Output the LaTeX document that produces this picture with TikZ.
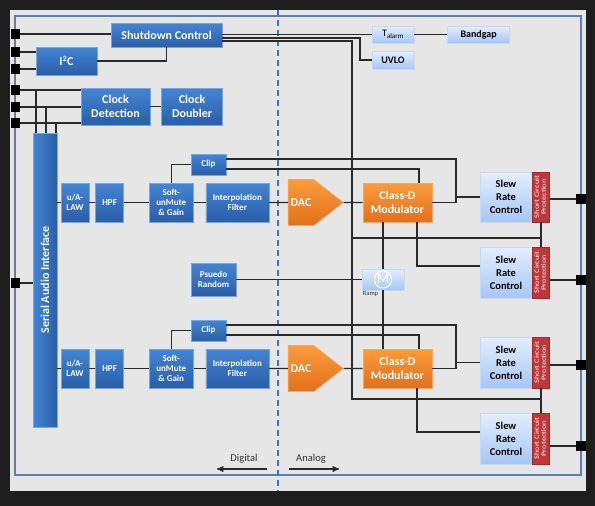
\documentclass[tikz,border=0pt]{standalone}
\usepackage{fontspec}
\setmainfont{Carlito}
\usepackage{graphicx}
\usetikzlibrary{shapes,positioning,arrows,calc}
\definecolor{bgdark}{HTML}{1E1E1E}
\definecolor{panel}{HTML}{E6E6E6}
\definecolor{frameblue}{HTML}{5A7FB2}
\definecolor{dashblue}{HTML}{3F73B8}
\definecolor{wirecol}{HTML}{2A2A2A}
\definecolor{blktop}{HTML}{4385D3}
\definecolor{blkbot}{HTML}{2A5EA8}
\definecolor{blkline}{HTML}{7AA4DA}
\definecolor{ltop}{HTML}{E4EEFC}
\definecolor{lbot}{HTML}{A6C6F6}
\definecolor{lline}{HTML}{C6D8F2}
\definecolor{otop}{HTML}{FB9C3C}
\definecolor{obot}{HTML}{E2701A}
\definecolor{oline}{HTML}{F2A86A}
\definecolor{scpred}{HTML}{C0363A}
\definecolor{scpline}{HTML}{A02A2C}
\definecolor{labelgray}{HTML}{333333}
\newcommand{\scplabel}{\rotatebox{90}{\scalebox{1.3}[1]{\begin{tabular}{@{}c@{}}Short Circuit\\Protection\end{tabular}}}}

\begin{document}
\begin{tikzpicture}[x=1pt,y=-1pt]

    \tikzstyle{wire}=[draw=wirecol, line width=1.3pt]
    \tikzstyle{blk}=[draw=blkline, line width=0.6pt, top color=blktop, bottom color=blkbot, text=white, align=center, inner sep=0pt, font=\fontsize{9}{10.4}\selectfont\bfseries]
    \tikzstyle{bigblk}=[blk, font=\fontsize{12}{14.5}\selectfont\bfseries]
    \tikzstyle{rowblk}=[blk, minimum height=39pt]
    \tikzstyle{lblk}=[draw=lline, line width=0.6pt, top color=ltop, bottom color=lbot, text=black, align=center, inner sep=0pt, font=\fontsize{10}{12}\selectfont\bfseries]
    \tikzstyle{slew}=[lblk, minimum width=52pt, font=\fontsize{10.5}{13}\selectfont\bfseries]
    \tikzstyle{scp}=[draw=scpline, line width=0.5pt, fill=scpred, text=white, inner sep=0pt, minimum width=17pt, font=\fontsize{6.5}{7}\selectfont]
    \tikzstyle{ora}=[draw=oline, line width=0.6pt, top color=otop, bottom color=obot, text=white, align=center, inner sep=0pt, font=\fontsize{12}{14.5}\selectfont\bfseries]
    \tikzstyle{dacshape}=[ora, signal, signal to=east, signal pointer angle=76, minimum width=55pt, minimum height=46pt]
    \tikzstyle{pad}=[fill=black, minimum size=9.5pt, inner sep=0pt]
    \tikzstyle{sidetxt}=[text=labelgray, font=\fontsize{10.5}{12}\selectfont]

    % backdrop
    \fill[bgdark] (0,0) rectangle (595,506);
    \fill[panel] (10,10) rectangle (586,491);
    \draw[frameblue, line width=1.2pt] (15,16) rectangle (581,475);
    \draw[dashblue, line width=1.5pt, dash pattern=on 6pt off 4pt] (278,10) -- (278,491);

    \begin{scope}[>=stealth']

      % control
      \node (shutdown) at (166.5,35)[bigblk, minimum width=111pt, minimum height=24pt]{Shutdown Control};
      \node (iic) at (66.5,61)[bigblk, minimum width=61pt, minimum height=28pt]{I\textsuperscript{2}C};
      \node (clockDet) at (115.5,106.5)[bigblk, minimum width=69pt, minimum height=37pt]{Clock\\Detection};
      \node (clockDbl) [right=11pt of clockDet, bigblk, minimum width=61pt, minimum height=37pt]{Clock\\Doubler};
      \node (serialAudio) at (45,280)[draw=blkline, line width=0.6pt, left color=blktop, right color=blkbot, text=white, inner sep=0pt, minimum width=24pt, minimum height=294pt, font=\fontsize{12}{14.5}\selectfont\bfseries]{\rotatebox{90}{Serial Audio Interface}};
      \node (tAlarm) at (393,34.5)[lblk, minimum width=42pt, minimum height=17pt, font=\fontsize{10}{12}\selectfont]{T\textsubscript{alarm}};
      \node (bandgap) [right=33pt of tAlarm, lblk, minimum width=62pt, minimum height=17pt]{Bandgap};
      \node (uvlo) at (393,60)[lblk, minimum width=42pt, minimum height=18pt]{UVLO};

      % channel one
      \node (lawA) at (75,202.5)[rowblk, minimum width=28pt]{u/A-\\LAW};
      \node (hpfA) [right=6pt of lawA, rowblk, minimum width=28pt]{HPF};
      \node (softA) [right=25pt of hpfA, rowblk, minimum width=44pt]{Soft-\\unMute\\\& Gain};
      \node (interpA) [right=12pt of softA, rowblk, minimum width=63pt]{Interpolation\\Filter};
      \node (clipA) at (208.5,164.5)[blk, minimum width=35pt, minimum height=21pt]{Clip};
      \node (dacA) at (301,202.5)[dacshape]{DAC};
      \node (classDA) at (397.5,202.5)[ora, minimum width=69pt, minimum height=39pt]{Class-D\\Modulator};
      \node (slewA) at (506,197)[slew, minimum height=50pt]{Slew\\Rate\\Control};
      \node (scpA) [right=0pt of slewA, scp, minimum height=50pt]{\scplabel};
      \node (slewB) at (506,272.5)[slew, minimum height=51pt]{Slew\\Rate\\Control};
      \node (scpB) [right=0pt of slewB, scp, minimum height=51pt]{\scplabel};

      % ramp
      \node (pseudoRnd) at (213.5,279.5)[blk, minimum width=45pt, minimum height=33pt]{Psuedo\\Random};
      \node (ramp) at (383,279.5)[lblk, minimum width=42pt, minimum height=21pt]{};
      \node (rampIcon) at (ramp)[circle, draw=white, line width=1pt, minimum size=17pt, inner sep=0pt, text=white, font=\fontsize{14}{14}\selectfont]{M};
      \node (rampTxt) at (ramp.south west)[anchor=north west, inner sep=1pt, text=labelgray, font=\fontsize{6.5}{7}\selectfont]{Ramp};

      % channel two
      \node (lawB) at (75,368.5)[rowblk, minimum width=28pt]{u/A-\\LAW};
      \node (hpfB) [right=6pt of lawB, rowblk, minimum width=28pt]{HPF};
      \node (softB) [right=25pt of hpfB, rowblk, minimum width=44pt]{Soft-\\unMute\\\& Gain};
      \node (interpB) [right=12pt of softB, rowblk, minimum width=63pt]{Interpolation\\Filter};
      \node (clipB) at (208.5,330.5)[blk, minimum width=35pt, minimum height=21pt]{Clip};
      \node (dacB) at (301,368.5)[dacshape]{DAC};
      \node (classDB) at (397.5,368.5)[ora, minimum width=69pt, minimum height=39pt]{Class-D\\Modulator};
      \node (slewC) at (506,362.5)[slew, minimum height=51pt]{Slew\\Rate\\Control};
      \node (scpC) [right=0pt of slewC, scp, minimum height=51pt]{\scplabel};
      \node (slewD) at (506,438.5)[slew, minimum height=51pt]{Slew\\Rate\\Control};
      \node (scpD) [right=0pt of slewD, scp, minimum height=51pt]{\scplabel};

      % pads
      \node (padA) at (15.5,34)[pad]{};
      \node (padB) at (15.5,52)[pad]{};
      \node (padC) at (15.5,69)[pad]{};
      \node (padD) at (15.5,90)[pad]{};
      \node (padE) at (15.5,107)[pad]{};
      \node (padF) at (15.5,123)[pad]{};
      \node (padG) at (15.5,283)[pad]{};
      \node (padH) at (581,199)[pad]{};
      \node (padI) at (581,280)[pad]{};
      \node (padJ) at (581,365)[pad]{};
      \node (padK) at (581,446)[pad]{};

      \coordinate (tapD) at (36,90);
      \coordinate (tapE) at (46,107);
      \coordinate (tapF) at (56,123);
      \coordinate (uvloBend) at (360,38);
      \coordinate (busTop) at (352,41);
      \coordinate (busA) at (540.5,238);
      \coordinate (busB) at (540.5,399);
      \coordinate (jA) at (456,202.5);
      \coordinate (jB) at (456,368.5);

      % control wiring
      \draw[wire] (padA) -- (padA -| shutdown.west);
      \draw[wire] (padB) -- (padB -| iic.west);
      \draw[wire] (padC) -- (padC -| iic.west);
      \draw[wire] (iic.east) -| (shutdown.south);
      \draw[wire] (padD) -- (padD -| clockDet.west);
      \draw[wire] (padE) -- (padE -| clockDet.west);
      \draw[wire] (padF) -- (padF -| clockDet.west);
      \draw[wire] (tapD) -- (tapD |- serialAudio.north);
      \draw[wire] (tapE) -- (tapE |- serialAudio.north);
      \draw[wire] (tapF) -- (tapF |- serialAudio.north);
      \draw[wire] (clockDet) -- (clockDbl);
      \draw[wire] (padG) -- (padG -| serialAudio.west);
      \draw[wire] (shutdown.east |- tAlarm.west) -- (tAlarm.west);
      \draw[wire] (tAlarm) -- (bandgap);
      \draw[wire] (uvloBend -| shutdown.east) -- (uvloBend) |- (uvlo.west);
      \draw[wire] (busTop -| shutdown.east) -- (busTop) -- (busTop |- busB) -- (busB);
      \draw[wire] (busA -| busTop) -- (busA);

      % channel one wiring
      \draw[wire] (lawA.west -| serialAudio.east) -- (lawA.west);
      \draw[wire] (lawA) -- (hpfA);
      \draw[wire] (hpfA) -- (softA);
      \draw[wire] (softA) -- (interpA);
      \draw[wire] (interpA) -- (dacA);
      \draw[wire] (dacA) -- (classDA);
      \draw[wire] (softA.north) |- (clipA.west);
      \draw[wire] ([yshift=5.5pt]clipA.east) -| (jA);
      \draw[wire] ([yshift=-4.5pt]clipA.east) -| ([xshift=21.5pt]classDA.north);
      \draw[wire] (classDA.east) -- (jA);
      \draw[wire] (jA |- slewA.west) -- (slewA.west);
      \draw[wire] ([xshift=19.5pt]classDA.south) |- ([yshift=6.5pt]slewB.west);
      \draw[wire] (scpA.south) -- (scpB.north);
      \draw[wire] (padH -| scpA.east) -- (padH);
      \draw[wire] (padI -| scpB.east) -- (padI);

      % ramp wiring
      \draw[wire] (pseudoRnd) -- (ramp);
      \draw[wire] (classDA.south -| ramp.north) -- (ramp.north);
      \draw[wire] (ramp.south) -- (ramp.south |- classDB.north);

      % channel two wiring
      \draw[wire] (lawB.west -| serialAudio.east) -- (lawB.west);
      \draw[wire] (lawB) -- (hpfB);
      \draw[wire] (hpfB) -- (softB);
      \draw[wire] (softB) -- (interpB);
      \draw[wire] (interpB) -- (dacB);
      \draw[wire] (dacB) -- (classDB);
      \draw[wire] (softB.north) |- (clipB.west);
      \draw[wire] ([yshift=5.5pt]clipB.east) -| (jB);
      \draw[wire] ([yshift=-4.5pt]clipB.east) -| ([xshift=21.5pt]classDB.north);
      \draw[wire] (classDB.east) -- (jB);
      \draw[wire] (jB |- slewC.west) -- (slewC.west);
      \draw[wire] ([xshift=19.5pt]classDB.south) |- ([yshift=6.5pt]slewD.west);
      \draw[wire] (scpC.south) -- (scpD.north);
      \draw[wire] (padJ -| scpC.east) -- (padJ);
      \draw[wire] (padK -| scpD.east) -- (padK);

      % domains
      \node (digital) at (244,459)[sidetxt]{Digital};
      \node (analog) at (311,459)[sidetxt]{Analog};
      \coordinate (digFrom) at (267,469);
      \coordinate (digTo) at (217,469);
      \coordinate (anaFrom) at (289,469);
      \coordinate (anaTo) at (339,469);
      \draw[wire, ->] (digFrom) -- (digTo);
      \draw[wire, ->] (anaFrom) -- (anaTo);

    \end{scope}
\end{tikzpicture}
\end{document}
